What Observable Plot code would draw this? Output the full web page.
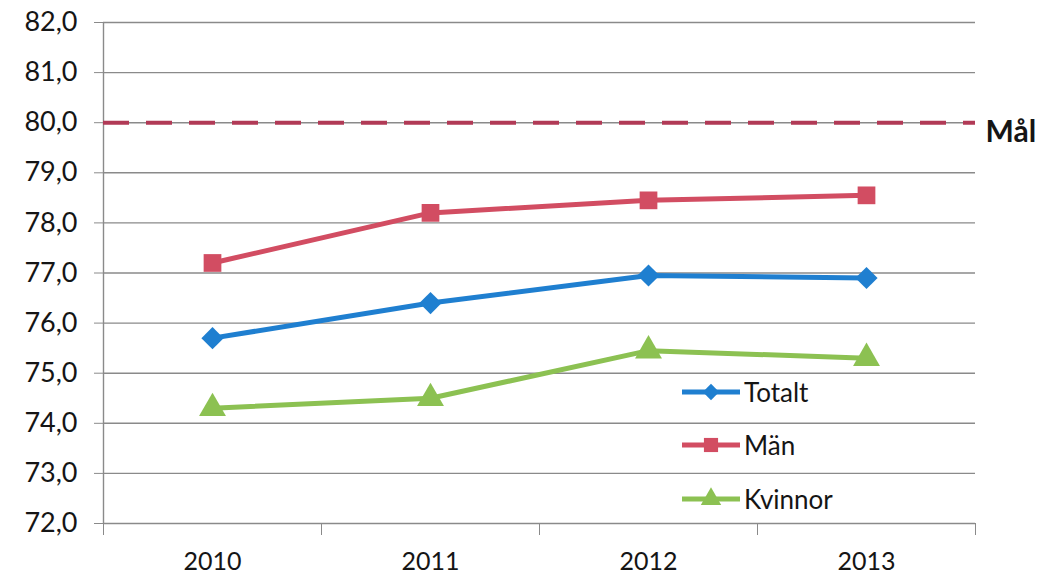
<!DOCTYPE html>
<html>
<head>
<meta charset="utf-8">
<script src="https://cdn.jsdelivr.net/npm/d3@7"></script>
<script src="https://cdn.jsdelivr.net/npm/@observablehq/plot@0.6"></script>
<style>
  html, body { margin: 0; padding: 0; background: #fff; }
  #wrap { position: relative; width: 1062px; height: 582px; }
  #legend { position: absolute; left: 680px; top: 365px; font-family: Lato, "Open Sans", sans-serif; font-size: 26px; color: #151515; }
  .item { display: flex; align-items: center; height: 53.5px; }
  .item svg { margin-right: 2px; }
</style>
</head>
<body>
<div id="wrap"></div>
<script>
const years = [2010, 2011, 2012, 2013];
const totalt = [75.7, 76.4, 76.95, 76.9];
const man = [77.2, 78.2, 78.45, 78.55];
const kvinnor = [74.3, 74.5, 75.45, 75.3];
const goal = 80;
const goalLabel = "Mål";
const seriesNames = ["Totalt", "Män", "Kvinnor"];
const seriesColors = ["#1f7fd0", "#d24d62", "#8cc152"];
const seriesSymbols = ["diamond2", "square", "triangle"];
const yTicks = [72, 73, 74, 75, 76, 77, 78, 79, 80, 81, 82];

const seriesValues = [totalt, man, kvinnor];
const data = seriesNames.flatMap((name, i) =>
  years.map((year, j) => ({ series: name, year, value: seriesValues[i][j] })));
const bandEdges = [...years.map(y => y - 0.5), years[years.length - 1] + 0.5];

const chart = Plot.plot({
  width: 1062,
  height: 582,
  marginLeft: 103,
  marginRight: 87,
  marginTop: 22,
  marginBottom: 59,
  style: { fontFamily: "Lato, 'Open Sans', sans-serif", background: "#fff", color: "#151515" },
  x: { domain: [bandEdges[0], bandEdges[bandEdges.length - 1]] },
  y: { domain: [72, 82] },
  color: { domain: seriesNames, range: seriesColors },
  symbol: { domain: seriesNames, range: seriesSymbols },
  marks: [
    Plot.gridY(yTicks, { stroke: "#8a8a8a", strokeOpacity: 1, strokeWidth: 1.4 }),
    Plot.ruleX([bandEdges[0]], { stroke: "#8a8a8a", strokeWidth: 1.4, y1: 72, y2: 82 }),
    Plot.axisY({ ticks: yTicks, tickFormat: d => d.toFixed(1).replace(".", ","), tickSize: 9, tickPadding: 17, fontSize: 27, stroke: "#8a8a8a", fill: "#151515", label: null }),
    Plot.axisX({ ticks: bandEdges, tickFormat: () => "", tickSize: 12, stroke: "#8a8a8a", label: null }),
    Plot.axisX({ ticks: years, tickFormat: d => String(d), tickSize: 0, tickPadding: 29, fontSize: 25, fill: "#151515", label: null }),
    Plot.ruleY([goal], { stroke: "#b13a56", strokeWidth: 4, strokeDasharray: "26,17" }),
    Plot.text([goalLabel], { x: bandEdges[bandEdges.length - 1], y: goal, text: d => d, dx: 10, dy: 10, textAnchor: "start", fontSize: 30, fontWeight: "bold", fill: "#151515" }),
    Plot.line(data, { x: "year", y: "value", z: "series", stroke: "series", strokeWidth: 5 }),
    Plot.dot(data, { x: "year", y: "value", symbol: "series", fill: "series", r: 10, stroke: "none" })
  ]
});
document.getElementById("wrap").appendChild(chart);

// Legend
const legend = document.createElement("div");
legend.id = "legend";
const symPaths = {
  diamond2: d3.symbol(d3.symbolDiamond2, 170)(),
  square: d3.symbol(d3.symbolSquare, 200)(),
  triangle: d3.symbol(d3.symbolTriangle, 180)()
};
seriesNames.forEach((name, i) => {
  const item = document.createElement("div");
  item.className = "item";
  item.innerHTML = `<svg width="62" height="30"><line x1="2" x2="60" y1="15" y2="15" stroke="${seriesColors[i]}" stroke-width="5"/><path transform="translate(31,15)" d="${symPaths[seriesSymbols[i]]}" fill="${seriesColors[i]}"/></svg><span>${name}</span>`;
  legend.appendChild(item);
});
document.getElementById("wrap").appendChild(legend);
</script>
</body>
</html>
